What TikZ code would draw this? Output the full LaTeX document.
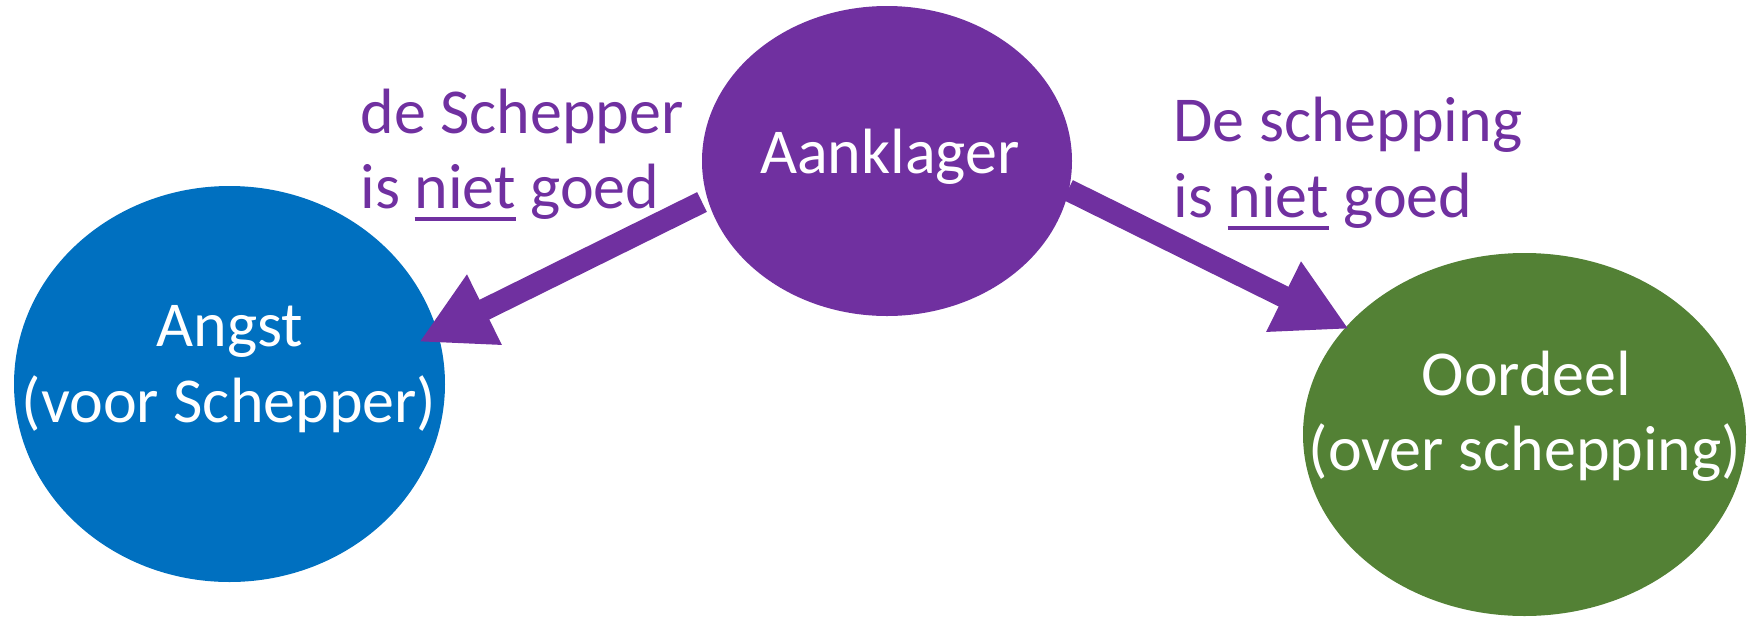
\documentclass[tikz,border=0pt]{standalone}
\usepackage{fontspec}
\setmainfont{Carlito}
\usetikzlibrary{shapes.geometric,arrows.meta}
\definecolor{aanpurple}{RGB}{112,48,160}
\definecolor{angstblue}{RGB}{0,112,192}
\definecolor{oordgreen}{RGB}{83,129,53}
\newsavebox\ulbox
\newcommand\myul[1]{\sbox\ulbox{#1}\rlap{\rule[-6.5pt]{\wd\ulbox}{2pt}}\usebox\ulbox}
\begin{document}
\begin{tikzpicture}[x=0.5pt,y=-0.5pt,
  blob/.style={ellipse, inner sep=0pt, outer sep=0pt},
  intext/.style={text=white, font=\fontsize{32}{38}\selectfont, anchor=base, inner sep=0pt},
  lbl/.style={text=aanpurple, font=\fontsize{32}{38}\selectfont, anchor=base west, inner sep=0pt},
  conn/.style={draw=aanpurple, line width=11pt, -{Triangle[length=36.5pt,width=36.5pt]}}]
\useasboundingbox (0,0) rectangle (1753,617);
\node[blob, fill=angstblue, minimum width=215.5pt, minimum height=198pt] (angst) at (229.5,384) {};
\node[blob, fill=oordgreen, minimum width=221.5pt, minimum height=181.5pt] (oordeel) at (1524.5,434.5) {};
\coordinate (l1) at (702,202);
\coordinate (l2) at (419,342);
\coordinate (r1) at (1068,190);
\coordinate (r2) at (1349,329);
\draw[conn] (l1) -- (l2);
\draw[conn] (r1) -- (r2);
\node[blob, fill=aanpurple, minimum width=185pt, minimum height=155pt] (aanklager) at (887,161) {};
\node[intext] (aantext) at (890,173) {Aanklager};
\node[intext] (angst1) at (230,346) {Angst};
\node[intext] (angst2) at (229,422) {(voor Schepper)};
\node[intext] (oord1) at (1526.5,395) {Oordeel};
\node[intext] (oord2) at (1525,470) {(over schepping)};
\node[lbl] (ll1) at (360,133) {de Schepper};
\node[lbl] (ll2) at (360,208) {is \myul{niet} goed};
\node[lbl] (rl1) at (1173,141) {De schepping};
\node[lbl] (rl2) at (1173,217) {is \myul{niet} goed};
\end{tikzpicture}
\end{document}
